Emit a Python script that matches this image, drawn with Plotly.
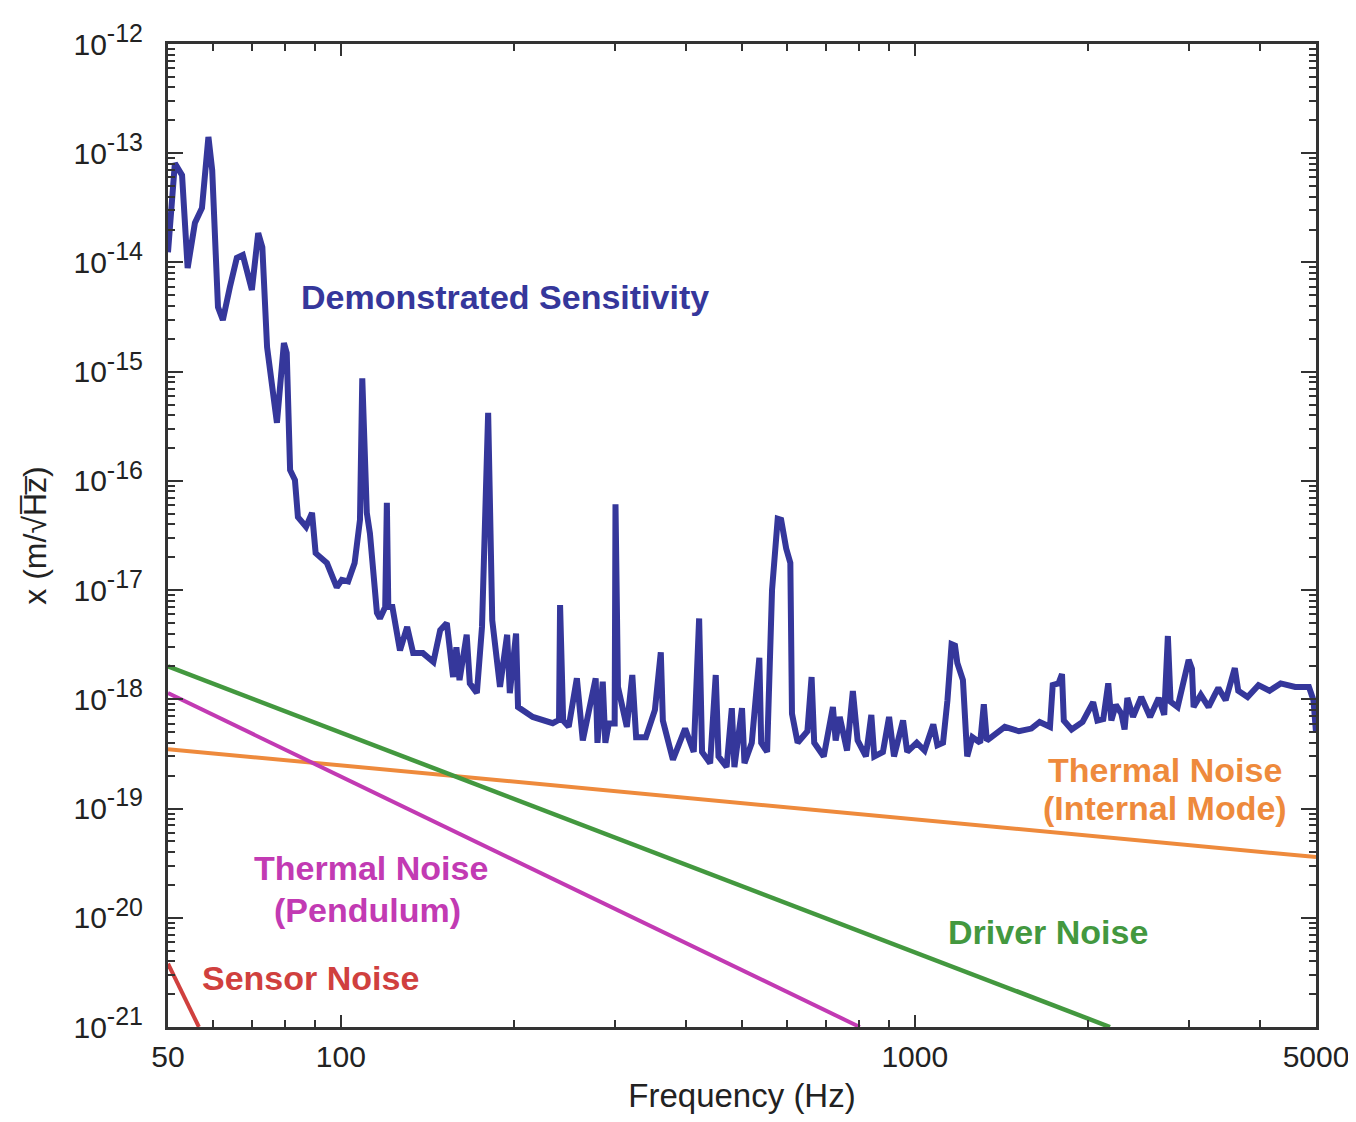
import plotly.graph_objects as go

# ---------------- data ----------------
freq_hz = [50, 51.4, 52.9, 54.1, 55.7, 57.3, 58.8, 59.7, 61.1, 62.3, 64.1, 65.9, 67.5, 70.0,
           71.8, 73.0, 74.4, 77.4, 79.6, 80.5, 81.6, 83.2, 84.2, 87.0, 89.1, 90.4, 94.6, 98.4,
           100.4, 103, 105.7, 108, 109.0, 111, 112.4, 115.6, 117, 119.5, 120.3, 121, 123, 126.8,
           130.5, 133.7, 139, 145, 149, 153, 156.9, 159, 161, 165.7, 167.8, 172.6, 176.2, 180.6,
           183.6, 189.4, 194.9, 197, 202, 203.6, 216, 234, 240, 241, 244, 249.5, 257.8, 264,
           278, 280, 286, 289, 293, 300, 301, 304, 315, 322, 327, 340, 352.6, 361, 364, 379,
           398, 412, 421, 426, 440, 450, 455, 470, 480, 485, 500, 505, 520, 536, 540, 553,
           564, 577, 585, 597, 607, 611, 625, 650, 661, 668, 694, 720, 728, 740, 762, 780,
           795, 811, 822, 840, 850, 880, 902, 920, 954, 970, 1008, 1040, 1077, 1095, 1120,
           1140, 1159, 1175, 1186, 1213, 1222, 1234, 1260, 1300, 1319, 1335, 1360, 1435,
           1519, 1596, 1650, 1720, 1739, 1780, 1805, 1818, 1876, 1960, 2045, 2080, 2130,
           2173, 2200, 2240, 2290, 2320, 2346, 2400, 2480, 2570, 2660, 2720, 2760, 2790,
           2870, 3000, 3040, 3060, 3150, 3250, 3330, 3380, 3480, 3610, 3660, 3800, 3970,
           4150, 4340, 4600, 4860, 4950, 5000]
sensitivity = [1.24e-14, 8.1e-14, 6.3e-14, 8.9e-15, 2.3e-14, 3.15e-14, 1.41e-13, 7.0e-14, 3.9e-15,
               2.97e-15, 5.96e-15, 1.1e-14, 1.17e-14, 5.6e-15, 1.86e-14, 1.38e-14, 1.68e-15,
               3.4e-16, 1.83e-15, 1.48e-15, 1.26e-16, 1.02e-16, 4.66e-17, 3.8e-17, 5.1e-17,
               2.18e-17, 1.77e-17, 1.06e-17, 1.24e-17, 1.2e-17, 1.77e-17, 4.4e-17, 8.7e-16,
               5.1e-17, 3.3e-17, 6.2e-18, 5.5e-18, 7e-18, 6.3e-17, 7.0e-18, 7.0e-18, 2.8e-18,
               4.6e-18, 2.65e-18, 2.65e-18, 2.2e-18, 4.3e-18, 5.0e-18, 1.6e-18, 3.0e-18, 1.5e-18,
               3.9e-18, 1.4e-18, 1.14e-18, 4.6e-18, 4.2e-16, 5.3e-18, 1.3e-18, 3.9e-18, 1.14e-18,
               4.0e-18, 8.5e-19, 6.9e-19, 6.05e-19, 6.5e-19, 7.3e-18, 6.4e-19, 5.6e-19, 1.56e-18,
               4.2e-19, 1.56e-18, 4.0e-19, 1.45e-18, 4.0e-19, 6.0e-19, 6.0e-19, 6.1e-17, 1.3e-18,
               5.6e-19, 1.67e-18, 4.5e-19, 4.5e-19, 8.0e-19, 2.7e-18, 6.4e-19, 2.8e-19, 5.4e-19,
               3.3e-19, 5.5e-18, 3.3e-19, 2.6e-19, 1.67e-18, 3.0e-19, 2.4e-19, 8.3e-19, 2.4e-19,
               8.3e-19, 2.6e-19, 4.0e-19, 2.4e-18, 4.0e-19, 3.3e-19, 1.0e-17, 4.5e-17, 4.4e-17,
               2.4e-17, 1.77e-17, 7.4e-19, 4.0e-19, 5.1e-19, 1.6e-18, 4.0e-19, 3.0e-19, 8.5e-19,
               4.2e-19, 6.9e-19, 3.4e-19, 1.19e-18, 4.2e-19, 3.4e-19, 3.0e-19, 7.2e-19, 3.0e-19,
               3.3e-19, 6.9e-19, 3.0e-19, 6.4e-19, 3.3e-19, 4.0e-19, 3.4e-19, 5.9e-19, 3.8e-19,
               4.0e-19, 9.8e-19, 3.2e-18, 3.1e-18, 2.15e-18, 1.5e-18, 6.4e-19, 3.0e-19, 4.5e-19,
               4.0e-19, 9.0e-19, 4.2e-19, 4.5e-19, 5.6e-19, 5.1e-19, 5.4e-19, 6.2e-19, 5.6e-19,
               1.35e-18, 1.4e-18, 1.7e-18, 6.4e-19, 5.3e-19, 6.2e-19, 9.4e-19, 6.4e-19, 6.6e-19,
               1.4e-18, 6.4e-19, 8.9e-19, 7.4e-19, 5.3e-19, 1.03e-18, 6.9e-19, 1.05e-18, 6.9e-19,
               1.03e-18, 7.2e-19, 3.8e-18, 9.5e-19, 8.5e-19, 2.3e-18, 1.9e-18, 8.5e-19, 1.1e-18,
               8.5e-19, 1.1e-18, 1.27e-18, 9.8e-19, 1.93e-18, 1.2e-18, 1.05e-18, 1.35e-18,
               1.2e-18, 1.4e-18, 1.3e-18, 1.3e-18, 9.8e-19, 5.0e-19]

# noise model lines (straight on log-log axes): end points
thermal_internal_f = [50, 5000]
thermal_internal_x = [3.5e-19, 3.6e-20]
driver_f = [50, 2188]
driver_x = [2.0e-18, 1.0e-21]
thermal_pend_f = [50, 802]
thermal_pend_x = [1.14e-18, 1.0e-21]
sensor_f = [50, 56.6]
sensor_x = [3.8e-21, 1.0e-21]

x_tick_vals = [50, 100, 1000, 5000]
x_tick_text = ["50", "100", "1000", "5000"]
x_minor_vals = [60, 70, 80, 90, 200, 300, 400, 500, 600, 700, 800, 900, 2000, 3000, 4000]
y_exponents = list(range(-21, -11))
y_tick_vals = [10.0 ** e for e in y_exponents]
y_tick_text = ["10<sup><span style='font-size:25px'>%d</span></sup>" % e for e in y_exponents]
y_minor_vals = [k * 10.0 ** e for e in range(-21, -12) for k in range(2, 10)]

# ---------------- styling ----------------
BLUE = "#35379b"
ORANGE = "#ee8a3c"
GREEN = "#43983f"
MAGENTA = "#c23ab3"
RED = "#d0403e"
FONT = "Liberation Sans, Arial, sans-serif"

fig = go.Figure()
fig.add_trace(go.Scatter(x=thermal_internal_f, y=thermal_internal_x, mode="lines",
                         line=dict(color=ORANGE, width=4), name="Thermal Noise (Internal Mode)"))
fig.add_trace(go.Scatter(x=driver_f, y=driver_x, mode="lines",
                         line=dict(color=GREEN, width=4.5), name="Driver Noise"))
fig.add_trace(go.Scatter(x=thermal_pend_f, y=thermal_pend_x, mode="lines",
                         line=dict(color=MAGENTA, width=4), name="Thermal Noise (Pendulum)"))
fig.add_trace(go.Scatter(x=sensor_f, y=sensor_x, mode="lines",
                         line=dict(color=RED, width=4), name="Sensor Noise"))
fig.add_trace(go.Scatter(x=freq_hz, y=sensitivity, mode="lines",
                         line=dict(color=BLUE, width=6), name="Demonstrated Sensitivity"))

# label positions in paper coordinates of the plotting area
annotations = [
    dict(text="<b>Demonstrated Sensitivity</b>", x=0.2936, y=0.7426, color=BLUE),
    dict(text="<b>Thermal Noise</b>", x=0.8685, y=0.2616, color=ORANGE),
    dict(text="<b>(Internal Mode)</b>", x=0.8685, y=0.2229, color=ORANGE),
    dict(text="<b>Thermal Noise</b>", x=0.1765, y=0.1617, color=MAGENTA),
    dict(text="<b>(Pendulum)</b>", x=0.1739, y=0.1190, color=MAGENTA),
    dict(text="<b>Driver Noise</b>", x=0.7666, y=0.0966, color=GREEN),
    dict(text="<b>Sensor Noise</b>", x=0.1237, y=0.0498, color=RED),
]
for a in annotations:
    fig.add_annotation(text=a["text"], x=a["x"], y=a["y"], xref="paper", yref="paper",
                       showarrow=False, xanchor="center", yanchor="middle",
                       font=dict(family=FONT, size=34, color=a["color"]))

axis_common = dict(showgrid=False, zeroline=False, showline=True, linecolor="#333333",
                   linewidth=3, mirror="ticks", ticks="inside", tickcolor="#333333",
                   tickwidth=2, ticklabeloverflow="allow", automargin=False,
                   tickfont=dict(family=FONT, size=30, color="#222222"))

fig.update_xaxes(type="log", range=[1.69897, 3.69897], tickmode="array",
                 tickvals=x_tick_vals, ticktext=x_tick_text, ticklen=12,
                 ticklabelstandoff=1,
                 minor=dict(tickmode="array", tickvals=x_minor_vals, ticks="inside",
                            ticklen=7, tickwidth=2, tickcolor="#333333"),
                 title=dict(text="Frequency (Hz)", font=dict(family=FONT, size=33, color="#222222"),
                            standoff=16),
                 **axis_common)
fig.update_yaxes(type="log", range=[-21, -12], tickmode="array",
                 tickvals=y_tick_vals, ticktext=y_tick_text, ticklen=15,
                 ticklabelstandoff=16,
                 minor=dict(tickmode="array", tickvals=y_minor_vals, ticks="inside",
                            ticklen=7, tickwidth=2, tickcolor="#333333"),
                 title=dict(text="x (m/\u221aH\u0305z\u0305)", font=dict(family=FONT, size=32, color="#222222"),
                            standoff=18),
                 **axis_common)

fig.update_layout(width=1340, height=1106, autosize=False,
                  margin=dict(l=160, r=32, t=36, b=87),
                  paper_bgcolor="white", plot_bgcolor="white",
                  showlegend=False, font=dict(family=FONT))

fig.write_html("out.html")
